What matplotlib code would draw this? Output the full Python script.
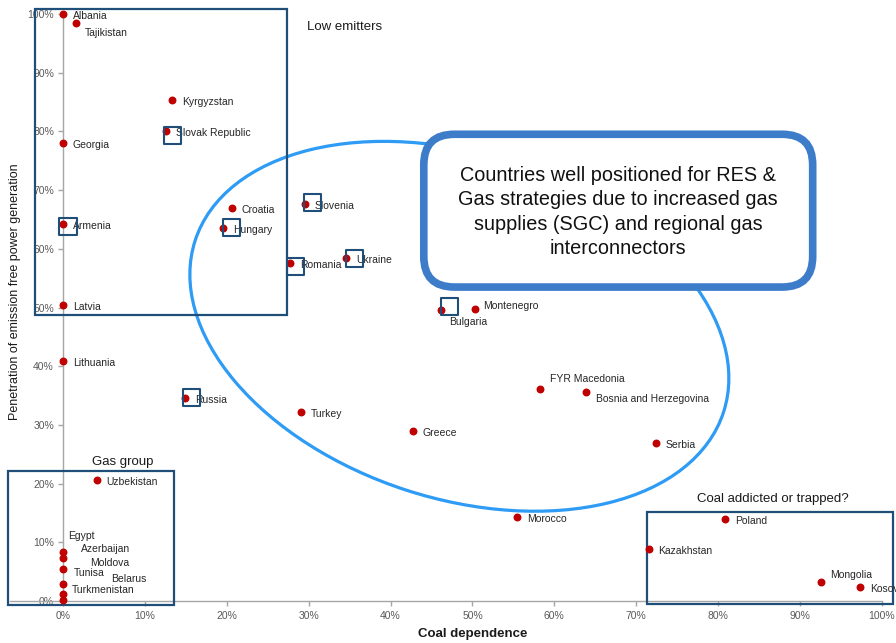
import matplotlib.pyplot as plt
from matplotlib.patches import Rectangle, Ellipse, FancyBboxPatch
from matplotlib.transforms import Affine2D, ScaledTranslation, offset_copy
from matplotlib.ticker import PercentFormatter

plt.rcParams['font.family'] = ['Liberation Sans', 'DejaVu Sans']

# coal dependence (x) and share of emission free generation (y), as fractions
countries = ['Albania', 'Tajikistan', 'Kyrgyzstan', 'Slovak Republic', 'Georgia',
             'Croatia', 'Hungary', 'Armenia', 'Latvia', 'Romania', 'Slovenia',
             'Ukraine', 'Lithuania', 'Russia', 'Turkey', 'Greece', 'Bulgaria',
             'Montenegro', 'FYR Macedonia', 'Bosnia and Herzegovina', 'Serbia',
             'Morocco', 'Uzbekistan', 'Egypt', 'Azerbaijan', 'Moldova', 'Tunisa',
             'Belarus', 'Turkmenistan', 'Poland', 'Kazakhstan', 'Mongolia', 'Kosovo']
coal = [0.000, 0.016, 0.133, 0.126, 0.000,
        0.206, 0.195, 0.000, 0.000, 0.277, 0.295,
        0.346, 0.000, 0.149, 0.291, 0.427, 0.462,
        0.503, 0.583, 0.639, 0.724,
        0.554, 0.041, 0.000, 0.000, 0.000, 0.000,
        0.000, 0.000, 0.808, 0.715, 0.926, 0.973]
clean = [1.000, 0.985, 0.853, 0.800, 0.781,
         0.669, 0.636, 0.642, 0.504, 0.575, 0.676,
         0.585, 0.409, 0.345, 0.322, 0.290, 0.496,
         0.497, 0.361, 0.356, 0.270,
         0.143, 0.207, 0.084, 0.074, 0.055, 0.029,
         0.012, 0.002, 0.140, 0.089, 0.032, 0.024]

# label offsets in pixels where the default (right of the dot) is not used
label_offsets = {
    'Tajikistan': (9, -10), 'Bulgaria': (8, -12), 'Montenegro': (8, 3),
    'FYR Macedonia': (10, 10), 'Bosnia and Herzegovina': (10, -7),
    'Mongolia': (9, 7), 'Egypt': (5, 16), 'Azerbaijan': (18, 9),
    'Moldova': (27, 6), 'Tunisa': (11, 11), 'Belarus': (48, 15),
    'Turkmenistan': (9, 10),
}
# small squares next to selected countries (pixel offsets)
highlighted = {
    'Slovak Republic': (6, -4), 'Armenia': (5, -2), 'Hungary': (9, 0),
    'Slovenia': (8, 2), 'Romania': (6, -3), 'Ukraine': (8, -1),
    'Russia': (6, 1), 'Bulgaria': (8, 3),
}

# group frames: (x0, y0, x1, y1) in data units, title and title position
groups = [
    ((-0.034, 0.487, 0.2735, 1.008), 'Low emitters', (0.344, 0.978)),
    ((-0.067, -0.007, 0.1355, 0.222), 'Gas group', (0.073, 0.236)),
    ((0.713, -0.005, 1.013, 0.152), 'Coal addicted or trapped?', (0.867, 0.174)),
]

callout = ('Countries well positioned for RES &\nGas strategies due to increased gas\n'
           'supplies (SGC) and regional gas\ninterconnectors')

fig = plt.figure(figsize=(8.96, 6.43), dpi=100)
ax = fig.add_axes([0.0109, 0.0653, 0.9734, 0.9129])
ax.set_xlim(-0.065, 1.0)
ax.set_ylim(0, 1.0)

axis_grey = '#a6a6a6'
for side in ['top', 'right']:
    ax.spines[side].set_visible(False)
ax.spines['left'].set_position(('data', 0))
for side in ['left', 'bottom']:
    ax.spines[side].set_color(axis_grey)
    ax.spines[side].set_linewidth(1.0)

ax.set_xticks([i / 10 for i in range(11)])
ax.set_yticks([i / 10 for i in range(11)])
ax.xaxis.set_major_formatter(PercentFormatter(1.0, decimals=0))
ax.yaxis.set_major_formatter(PercentFormatter(1.0, decimals=0))
ax.tick_params(axis='both', colors=axis_grey, labelcolor='#595959',
               labelsize=7.5, length=3.5, width=1.0)
ax.tick_params(axis='x', pad=4)
ax.tick_params(axis='y', pad=3)

ax.scatter(coal, clean, s=22, color='#c00000', zorder=4, clip_on=False)

for name, x, y in zip(countries, coal, clean):
    dx, dy = label_offsets.get(name, (10, -2))
    ax.annotate(name, (x, y), xytext=(dx, dy), textcoords='offset pixels',
                ha='left', va='center', fontsize=7.5, color='#262626',
                zorder=5, annotation_clip=False)

navy = '#1f4e79'
for name, (dx, dy) in highlighted.items():
    i = countries.index(name)
    tr = offset_copy(ax.transData, fig=fig, x=dx, y=dy, units='dots')
    ax.scatter([coal[i]], [clean[i]], marker='s', s=150, facecolors='none',
               edgecolors=navy, linewidths=1.5, transform=tr, zorder=6,
               clip_on=False)

for (x0, y0, x1, y1), title, (tx, ty) in groups:
    ax.add_patch(Rectangle((x0, y0), x1 - x0, y1 - y0, fill=False,
                           edgecolor=navy, linewidth=1.6, clip_on=False, zorder=3))
    ax.text(tx, ty, title, ha='center', va='center', fontsize=9.5, color='#1a1a1a')

# shapes sized in points, anchored at a data position
def anchored(cx, cy):
    return (Affine2D().scale(1 / 72) + fig.dpi_scale_trans
            + ScaledTranslation(cx, cy, ax.transData))

ax.add_patch(Ellipse((0, 0), 400, 248, angle=-18, fill=False,
                     edgecolor='#2e9bf5', linewidth=2.3,
                     transform=anchored(0.484, 0.468), clip_on=False, zorder=2))

ax.add_patch(FancyBboxPatch((-140, -55), 280, 110,
                            boxstyle='round,pad=0,rounding_size=22',
                            facecolor='white', edgecolor='#3d7cc9', linewidth=5.5,
                            transform=anchored(0.678, 0.665), clip_on=False, zorder=7))
ax.text(0.678, 0.663, callout, ha='center', va='center', multialignment='center',
        fontsize=14.3, linespacing=1.37, color='#111111', zorder=8)

fig.text(473 / 896, 1 - 634 / 643, 'Coal dependence', ha='center', va='center',
         fontsize=9.5, fontweight='bold', color='#1a1a1a')
fig.text(15 / 896, 1 - 292 / 643, 'Penetration of emission free power generation',
         rotation=90, ha='center', va='center', fontsize=9, color='#1a1a1a')

fig.savefig('out.png', dpi=100)
